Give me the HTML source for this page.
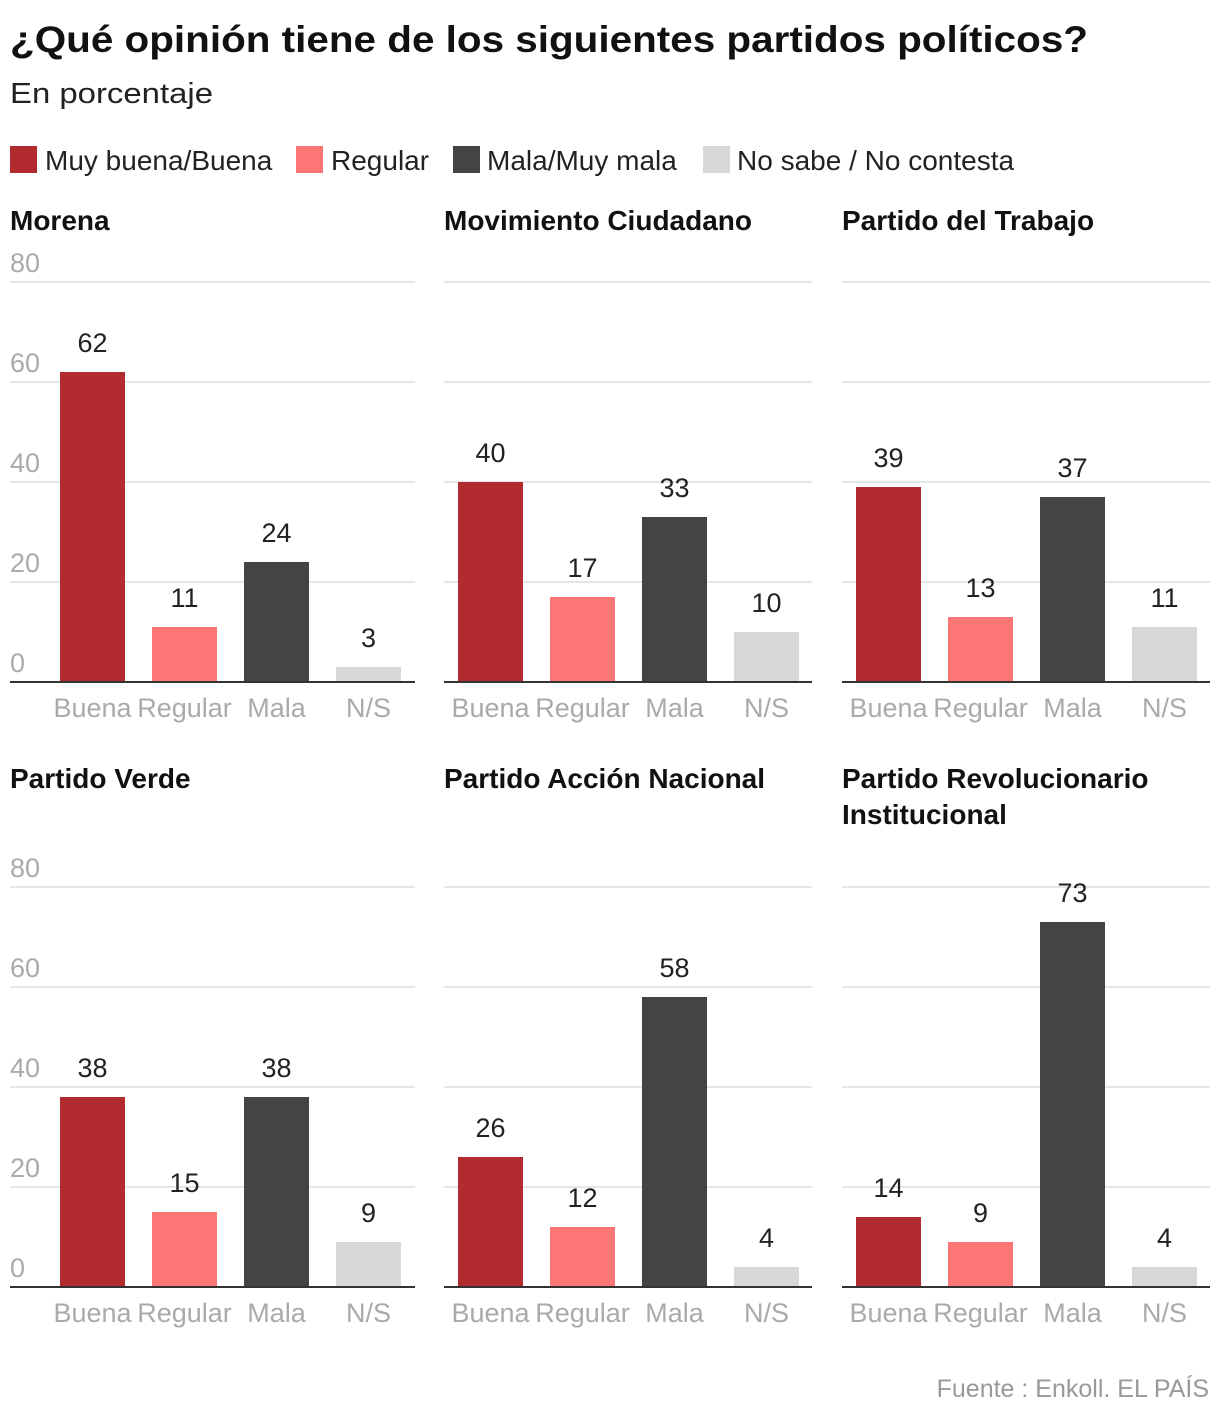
<!DOCTYPE html>
<html><head><meta charset="utf-8">
<style>
body{margin:0;background:#fff;width:1220px;height:1418px;overflow:hidden;font-family:"Liberation Sans",sans-serif;}
svg text{font-family:"Liberation Sans",sans-serif;}
</style></head>
<body>
<svg id="chart" width="1220" height="1418" xmlns="http://www.w3.org/2000/svg">
<text x="10" y="52" font-size="37" font-weight="bold" fill="#111" textLength="1078" lengthAdjust="spacingAndGlyphs">¿Qué opinión tiene de los siguientes partidos políticos?</text>
<text x="10" y="103" font-size="29" fill="#222" textLength="203" lengthAdjust="spacingAndGlyphs">En porcentaje</text>
<g>
<rect x="10" y="146" width="27" height="27" fill="#b22b2f"/>
<text x="45" y="170" font-size="28" fill="#222">Muy buena/Buena</text>
<rect x="296" y="146" width="27" height="27" fill="#fd7676"/>
<text x="331" y="170" font-size="28" fill="#222">Regular</text>
<rect x="453" y="146" width="27" height="27" fill="#444"/>
<text x="487" y="170" font-size="28" fill="#222">Mala/Muy mala</text>
<rect x="703" y="146" width="27" height="27" fill="#d8d8d8"/>
<text x="737" y="170" font-size="28" fill="#222">No sabe / No contesta</text>
</g>
<text x="1209" y="1397" font-size="25" fill="#999" text-anchor="end">Fuente : Enkoll. EL PAÍS</text>
</svg>
<script>
const parties = ["Morena","Movimiento Ciudadano","Partido del Trabajo","Partido Verde","Partido Acción Nacional","Partido Revolucionario|Institucional"];
const categories = ["Buena","Regular","Mala","N/S"];
const buenaValues = [62,40,39,38,26,14];
const regularValues = [11,17,13,15,12,9];
const malaValues = [24,33,37,38,58,73];
const nsValues = [3,10,11,9,4,4];
const ticks = [0,20,40,60,80];
const colors = ["#b22b2f","#fd7676","#444","#d8d8d8"];
const series = [buenaValues,regularValues,malaValues,nsValues];
const svg = document.getElementById('chart');
const NS = "http://www.w3.org/2000/svg";
const colX = [10,444,842], colW = [405,368,368], firstBar = [60,458,856];
const rowBase = [682,1287], rowTitle = [230,788];
const step = 92, barW = 65, scale = 5;
function mk(tag, attrs, txt){const e=document.createElementNS(NS,tag);for(const k in attrs)e.setAttribute(k,attrs[k]);if(txt!==undefined)e.textContent=txt;svg.appendChild(e);return e;}
function y(v,r){return rowBase[r]-v*scale;}
function x(i,c){return firstBar[c]+i*step;}
parties.forEach((p,pi)=>{
  const c=pi%3, r=Math.floor(pi/3);
  p.split("|").forEach((line,li)=>{
    const t=mk('text',{x:colX[c],y:rowTitle[r]+li*36,'font-size':28,'font-weight':'bold',fill:'#111'},line);
    
    
  });
  ticks.forEach(tv=>{
    if(tv>0){
      const g=mk('line',{x1:colX[c],x2:colX[c]+colW[c],y1:y(tv,r),y2:y(tv,r),stroke:'#ddd','stroke-width':1.5});
      
      
    }
    if(c===0){
      const tl=mk('text',{x:10,y:y(tv,r)-10,'font-size':27,fill:'#aaa'},String(tv));
      
      
    }
  });
  categories.forEach((cat,i)=>{
    const v=series[i][pi];
    const b=mk('rect',{x:x(i,c),y:y(v,r),width:barW,height:v*scale,fill:colors[i]});
    
    
    const vl=mk('text',{x:x(i,c)+barW/2,y:y(v,r)-20,'font-size':27,fill:'#222','text-anchor':'middle'},String(v));
    
    
    const cl=mk('text',{x:x(i,c)+barW/2,y:rowBase[r]+35,'font-size':27,fill:'#aaa','text-anchor':'middle'},cat);
    
    
  });
  const base=mk('line',{x1:colX[c],x2:colX[c]+colW[c],y1:rowBase[r],y2:rowBase[r],stroke:'#333','stroke-width':2});
  
  
});
</script>
</body></html>
